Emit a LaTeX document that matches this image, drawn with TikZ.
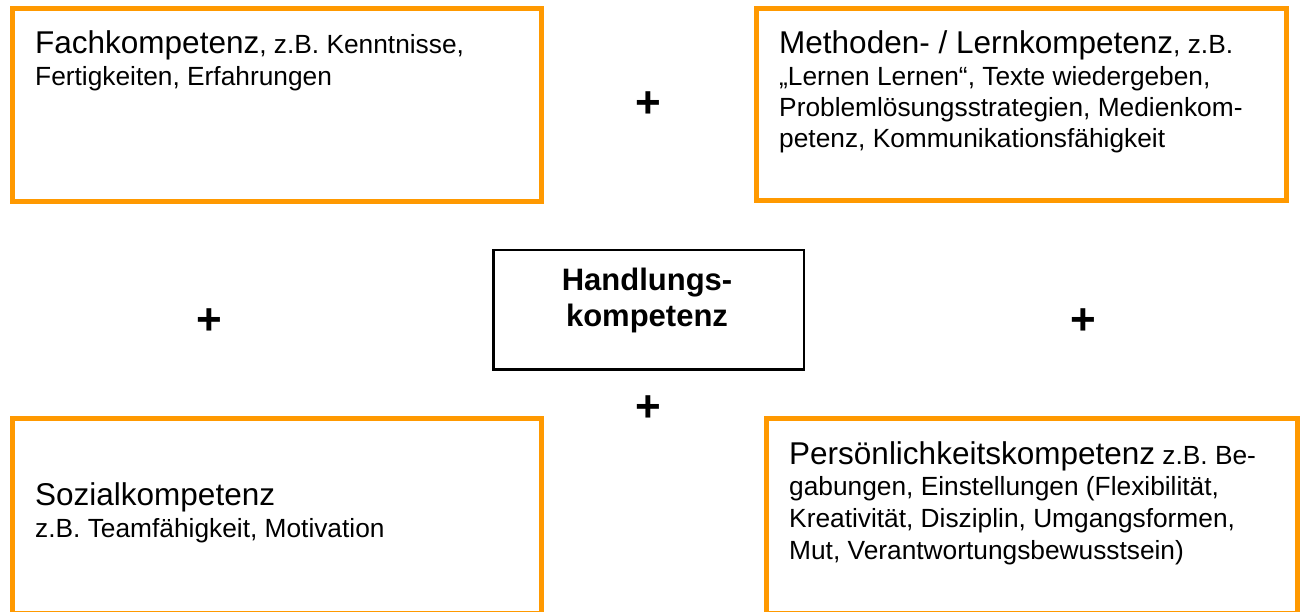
\documentclass[tikz,border=0pt]{standalone}
\usepackage{fontspec}
\setmainfont{Liberation Sans}
\definecolor{boxorange}{HTML}{FF9900}
\tikzset{
  obox/.style={draw=boxorange, line width=5pt, fill=white, inner sep=0pt},
  kbox/.style={draw=black, line width=2.5pt, fill=white, inner sep=0pt},
  txt/.style={anchor=base west, inner sep=0pt, font=\fontsize{26.3}{31.5}\selectfont},
  ctxt/.style={anchor=base, inner sep=0pt, font=\bfseries\fontsize{31}{36}\selectfont},
  plus/.style={inner sep=0pt, font=\bfseries\fontsize{44}{44}\selectfont}
}
\newcommand{\bigword}[1]{{\fontsize{31.5}{31.5}\selectfont #1}}
\begin{document}
\begin{tikzpicture}[x=1pt,y=-1pt]
\useasboundingbox (0,0) rectangle (1300,612);
\begin{scope}
\clip (0,0) rectangle (1300,612);
% boxes
\node[obox, minimum width=529pt, minimum height=193pt] (fach) at (277,105) {};
\node[obox, minimum width=530pt, minimum height=192pt] (meth) at (1021.5,104.5) {};
\node[kbox, minimum width=310.5pt, minimum height=119.5pt] (hand) at (648.75,309.75) {};
\node[obox, minimum width=529pt, minimum height=195pt] (sozi) at (277,516) {};
\node[obox, minimum width=531pt, minimum height=195pt] (pers) at (1032,516) {};
\end{scope}
% texts
\node[txt] (tfach) at (35,54) {\vtop{\baselineskip=31.3pt
  \hbox{\bigword{Fachkompetenz}, z.B. Kenntnisse,}
  \hbox{Fertigkeiten, Erfahrungen}}};
\node[txt] (tmeth) at (779,54) {\vtop{\baselineskip=31.3pt
  \hbox{\bigword{Methoden- / Lernkompetenz}, z.B.}
  \hbox{„Lernen Lernen“, Texte wiedergeben,}
  \hbox{Problemlösungsstrategien, Medienkom-}
  \hbox{petenz, Kommunikationsfähigkeit}}};
\node[txt] (tsozi) at (35,505) {\vtop{\baselineskip=32pt
  \hbox{\bigword{Sozialkompetenz}}
  \hbox{z.B. Teamfähigkeit, Motivation}}};
\node[txt] (tpers) at (789,464) {\vtop{\baselineskip=31.7pt
  \hbox{\bigword{Persönlichkeitskompetenz} z.B. Be-}
  \hbox{gabungen, Einstellungen (Flexibilität,}
  \hbox{Kreativität, Disziplin, Umgangsformen,}
  \hbox{Mut, Verantwortungsbewusstsein)}}};
\node[ctxt] (thand1) at (647,290.7) {Handlungs-};
\node[ctxt] (thand2) at (647,326.7) {kompetenz};
% plus signs
\node[plus] (p1) at (648,105) {+};
\node[plus] (p2) at (209,322) {+};
\node[plus] (p3) at (1083,322) {+};
\node[plus] (p4) at (648,409) {+};
\end{tikzpicture}
\end{document}
